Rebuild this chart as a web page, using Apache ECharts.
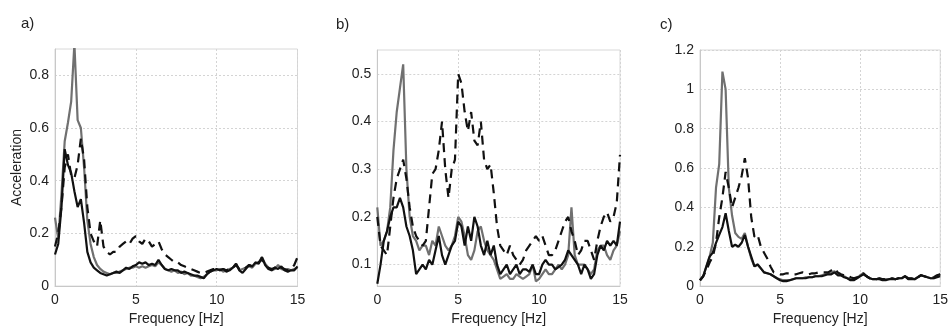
<!DOCTYPE html>
<html>
<head>
<meta charset="utf-8">
<script src="https://cdn.jsdelivr.net/npm/echarts@6/dist/echarts.min.js"></script>
<style>
html,body{margin:0;padding:0;background:#fff;}
#chart{width:951px;height:331px;}
</style>
</head>
<body>
<div id="chart"></div>
<script>
// Frequency [Hz] (0.2 Hz steps)
const freq = [0,0.2,0.4,0.6,0.8,1,1.2,1.4,1.6,1.8,2,2.2,2.4,2.6,2.8,3,3.2,3.4,3.6,3.8,4,4.2,4.4,4.6,4.8,5,5.2,5.4,5.6,5.8,6,6.2,6.4,6.6,6.8,7,7.2,7.4,7.6,7.8,8,8.2,8.4,8.6,8.8,9,9.2,9.4,9.6,9.8,10,10.2,10.4,10.6,10.8,11,11.2,11.4,11.6,11.8,12,12.2,12.4,12.6,12.8,13,13.2,13.4,13.6,13.8,14,14.2,14.4,14.6,14.8,15];

// Panel a)
const aGray = [0.26,0.18,0.35,0.55,0.62,0.7,0.92,0.63,0.6,0.45,0.25,0.16,0.11,0.08,0.065,0.055,0.05,0.045,0.05,0.05,0.055,0.06,0.065,0.07,0.07,0.075,0.07,0.075,0.07,0.075,0.08,0.075,0.09,0.08,0.065,0.06,0.055,0.06,0.05,0.055,0.045,0.05,0.04,0.04,0.035,0.03,0.035,0.045,0.055,0.06,0.06,0.065,0.055,0.06,0.065,0.07,0.085,0.06,0.065,0.07,0.075,0.07,0.085,0.09,0.11,0.085,0.07,0.06,0.065,0.08,0.065,0.06,0.065,0.06,0.065,0.07];
const aBlack = [0.12,0.16,0.3,0.52,0.46,0.43,0.36,0.3,0.33,0.24,0.13,0.09,0.07,0.06,0.05,0.045,0.04,0.045,0.05,0.055,0.05,0.06,0.07,0.065,0.075,0.08,0.09,0.085,0.09,0.08,0.085,0.08,0.1,0.08,0.065,0.06,0.065,0.06,0.06,0.05,0.055,0.05,0.045,0.04,0.04,0.035,0.03,0.045,0.055,0.06,0.065,0.06,0.065,0.055,0.06,0.07,0.085,0.06,0.05,0.065,0.08,0.075,0.09,0.085,0.11,0.08,0.065,0.06,0.07,0.065,0.075,0.06,0.055,0.06,0.06,0.075];
const aDash = [0.15,0.2,0.3,0.45,0.5,0.42,0.41,0.46,0.56,0.48,0.3,0.2,0.17,0.15,0.25,0.15,0.13,0.12,0.13,0.13,0.15,0.16,0.17,0.16,0.18,0.19,0.17,0.16,0.18,0.17,0.15,0.16,0.17,0.14,0.12,0.11,0.1,0.09,0.09,0.08,0.075,0.07,0.065,0.06,0.055,0.05,0.05,0.055,0.06,0.065,0.065,0.06,0.065,0.06,0.065,0.07,0.08,0.065,0.06,0.07,0.08,0.075,0.085,0.09,0.1,0.085,0.07,0.065,0.07,0.08,0.07,0.065,0.06,0.065,0.08,0.11];

// Panel b)
const bGray = [0.22,0.14,0.15,0.17,0.22,0.34,0.42,0.47,0.52,0.3,0.2,0.16,0.15,0.13,0.14,0.14,0.12,0.15,0.14,0.18,0.16,0.14,0.13,0.14,0.16,0.2,0.19,0.16,0.12,0.11,0.13,0.17,0.18,0.15,0.13,0.12,0.11,0.09,0.07,0.075,0.08,0.07,0.07,0.08,0.075,0.07,0.075,0.08,0.1,0.065,0.07,0.08,0.09,0.08,0.08,0.09,0.1,0.09,0.1,0.12,0.22,0.12,0.1,0.1,0.1,0.09,0.08,0.09,0.13,0.14,0.14,0.12,0.11,0.13,0.14,0.17];
const bBlack = [0.06,0.1,0.15,0.17,0.2,0.22,0.22,0.24,0.22,0.18,0.16,0.13,0.08,0.09,0.1,0.09,0.11,0.1,0.13,0.16,0.12,0.1,0.12,0.14,0.15,0.19,0.18,0.14,0.18,0.15,0.2,0.18,0.14,0.12,0.15,0.12,0.14,0.1,0.08,0.09,0.1,0.08,0.09,0.1,0.08,0.09,0.09,0.085,0.1,0.08,0.08,0.1,0.11,0.1,0.1,0.09,0.095,0.1,0.11,0.13,0.12,0.11,0.1,0.08,0.1,0.09,0.07,0.08,0.12,0.14,0.13,0.15,0.14,0.15,0.14,0.19];
const bDash = [0.2,0.14,0.13,0.12,0.18,0.24,0.28,0.3,0.32,0.28,0.22,0.18,0.16,0.15,0.14,0.15,0.22,0.29,0.3,0.34,0.4,0.3,0.24,0.3,0.32,0.5,0.48,0.42,0.38,0.42,0.36,0.35,0.4,0.32,0.3,0.31,0.25,0.18,0.14,0.13,0.12,0.14,0.12,0.11,0.1,0.11,0.13,0.14,0.15,0.16,0.15,0.16,0.14,0.12,0.12,0.13,0.15,0.17,0.19,0.2,0.17,0.15,0.12,0.13,0.15,0.15,0.13,0.11,0.15,0.18,0.2,0.21,0.19,0.2,0.23,0.33];

// Panel c)
const cGray = [0.03,0.05,0.1,0.15,0.22,0.5,0.62,1.09,1.0,0.5,0.36,0.27,0.25,0.24,0.27,0.2,0.14,0.1,0.11,0.09,0.07,0.065,0.06,0.05,0.04,0.035,0.03,0.03,0.03,0.035,0.04,0.04,0.04,0.045,0.045,0.045,0.05,0.05,0.055,0.06,0.065,0.07,0.075,0.06,0.055,0.05,0.04,0.035,0.035,0.04,0.055,0.065,0.05,0.04,0.035,0.035,0.04,0.035,0.035,0.035,0.04,0.035,0.04,0.04,0.05,0.04,0.04,0.035,0.045,0.055,0.05,0.045,0.04,0.04,0.05,0.06];
const cBlack = [0.03,0.05,0.1,0.15,0.17,0.22,0.26,0.3,0.37,0.28,0.2,0.21,0.2,0.22,0.26,0.2,0.15,0.1,0.11,0.09,0.07,0.065,0.06,0.05,0.04,0.03,0.025,0.025,0.03,0.035,0.04,0.04,0.04,0.04,0.045,0.045,0.05,0.05,0.05,0.055,0.06,0.06,0.07,0.055,0.055,0.045,0.04,0.03,0.03,0.04,0.05,0.06,0.05,0.04,0.035,0.035,0.035,0.03,0.03,0.035,0.035,0.035,0.04,0.04,0.05,0.035,0.035,0.035,0.045,0.055,0.05,0.045,0.04,0.04,0.045,0.05];
const cDash = [0.03,0.05,0.08,0.12,0.15,0.22,0.35,0.45,0.58,0.5,0.4,0.45,0.5,0.56,0.65,0.55,0.35,0.25,0.26,0.2,0.17,0.14,0.1,0.07,0.065,0.06,0.06,0.065,0.065,0.06,0.06,0.065,0.07,0.065,0.06,0.065,0.065,0.07,0.07,0.07,0.07,0.08,0.09,0.07,0.06,0.055,0.055,0.045,0.04,0.045,0.055,0.065,0.05,0.04,0.035,0.035,0.04,0.035,0.035,0.035,0.04,0.035,0.04,0.04,0.05,0.04,0.04,0.035,0.045,0.055,0.05,0.045,0.04,0.045,0.055,0.06];

// Axis ticks
const xTicks = [0, 5, 10, 15];
const aYTicks = [0, 0.2, 0.4, 0.6, 0.8];
const bYTicks = [0.1, 0.2, 0.3, 0.4, 0.5];
const cYTicks = [0, 0.2, 0.4, 0.6, 0.8, 1, 1.2];

const panelLabels = ['a)', 'b)', 'c)'];
const xName = 'Frequency [Hz]';
const yName = 'Acceleration';

const FONT = 'Liberation Sans, Arial, sans-serif';
const panels = [
  {grid:{left:55, top:49, width:242.5, height:240.3}, ymin:0, ymax:0.9, ticks:aYTicks, data:[aGray,aDash,aBlack]},
  {grid:{left:377.3, top:50, width:242.7, height:237.3}, ymin:0.055, ymax:0.55, ticks:bYTicks, data:[bGray,bDash,bBlack]},
  {grid:{left:700, top:50, width:242.7, height:239.3}, ymin:0, ymax:1.2, ticks:cYTicks, data:[cGray,cDash,cBlack]}
];

const zip = arr => freq.map((f, i) => [f, arr[i]]);
const grid = [], xAxis = [], yAxis = [], series = [];
panels.forEach((p, k) => {
  grid.push(Object.assign({show:true, borderColor:'#d8d8d8', borderWidth:1, backgroundColor:'transparent'}, p.grid));
  xAxis.push({
    type:'value', gridIndex:k, min:0, max:15,
    name: xName, nameLocation:'middle', nameGap:23,
    nameTextStyle:{fontFamily:FONT, fontSize:14, color:'#222'},
    axisLine:{show:true, lineStyle:{color:'#c8c8c8'}},
    axisTick:{show:false, customValues:xTicks},
    axisLabel:{customValues:xTicks, fontFamily:FONT, fontSize:14, color:'#222', margin:7},
    splitLine:{show:true, lineStyle:{color:'#d4d4d4', type:[2,2], width:1}}
  });
  yAxis.push({
    type:'value', gridIndex:k, min:p.ymin, max:p.ymax,
    name: k === 0 ? yName : '', nameLocation:'middle', nameGap:31,
    nameTextStyle:{fontFamily:FONT, fontSize:14, color:'#222'},
    axisLine:{show:true, lineStyle:{color:'#c8c8c8'}},
    axisTick:{show:false, customValues:p.ticks},
    axisLabel:{customValues:p.ticks, fontFamily:FONT, fontSize:14, color:'#222', margin:6},
    splitLine:{show:true, lineStyle:{color:'#d4d4d4', type:[2,2], width:1}}
  });
  const styles = [
    {color:'#707070', type:'solid'},
    {color:'#111111', type:[9,6]},
    {color:'#111111', type:'solid'}
  ];
  p.data.forEach((arr, j) => {
    series.push({
      type:'line', xAxisIndex:k, yAxisIndex:k, data:zip(arr),
      showSymbol:false, symbol:'none', animation:false,
      lineStyle:{width:2.2, color:styles[j].color, type:styles[j].type},
      z: 2 + j
    });
  });
});

const chart = echarts.init(document.getElementById('chart'), null, {renderer:'canvas'});
chart.setOption({
  animation:false,
  backgroundColor:'#ffffff',
  title: [
    {text:panelLabels[0], left:16, top:11, textStyle:{fontFamily:FONT, fontSize:15, fontWeight:'normal', color:'#222'}},
    {text:panelLabels[1], left:331, top:12, textStyle:{fontFamily:FONT, fontSize:15, fontWeight:'normal', color:'#222'}},
    {text:panelLabels[2], left:655, top:12, textStyle:{fontFamily:FONT, fontSize:15, fontWeight:'normal', color:'#222'}}
  ],
  grid, xAxis, yAxis, series
});
</script>
</body>
</html>
